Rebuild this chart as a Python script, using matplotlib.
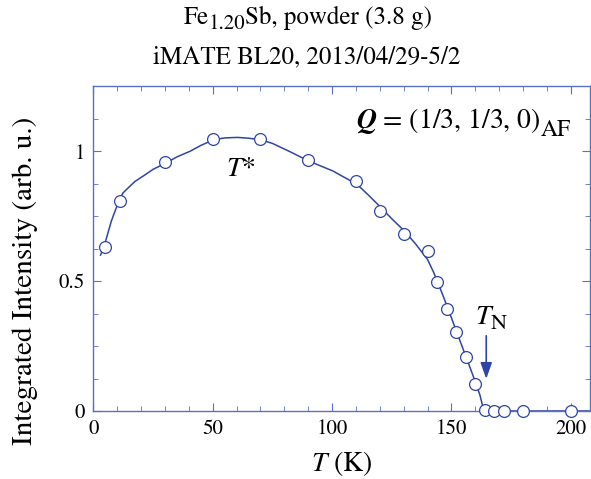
import numpy as np
import matplotlib
matplotlib.use("Agg")
import matplotlib.pyplot as plt
from matplotlib.ticker import MultipleLocator, FuncFormatter

plt.rcParams['font.family'] = 'STIXGeneral'
plt.rcParams['mathtext.fontset'] = 'stix'

# measured points
temp = [5, 11, 30, 50, 70, 90, 110, 120, 130, 140, 144, 148, 152, 156, 160,
        164, 168, 172, 180, 200]
intensity = [0.633, 0.81, 0.957, 1.046, 1.046, 0.966, 0.887, 0.769, 0.681,
             0.615, 0.497, 0.394, 0.304, 0.206, 0.103, 0.004, 0.0, 0.0, 0.0, 0.0]

# fit curve
fit_t = [3, 4.5, 7.5, 10.9, 12.5, 15.4, 17.5, 21, 25, 30.7, 35, 40.6, 45,
         50.4, 55, 60.2, 65, 70, 75, 82.6, 85, 90, 95, 100.3, 105, 110.4,
         115, 120.5, 125, 130.3, 135, 140, 142.5, 145, 147.5, 150, 152.5,
         155, 157.5, 160, 162, 163.6, 208]
fit_i = [0.6, 0.634, 0.73, 0.815, 0.84, 0.866, 0.884, 0.905, 0.93, 0.956,
         0.978, 1.0, 1.022, 1.044, 1.051, 1.053, 1.05, 1.044, 1.03, 0.997,
         0.986, 0.963, 0.944, 0.924, 0.9, 0.873, 0.833, 0.783, 0.74, 0.693,
         0.643, 0.583, 0.535, 0.479, 0.42, 0.359, 0.297, 0.236, 0.175,
         0.113, 0.06, 0.0, 0.0]

tn = 164.6
line_col = '#2f45a6'
spine_col = '#5b70c2'

fig = plt.figure(figsize=(5.91, 4.79), dpi=100)
ax = fig.add_axes([0.158, 0.142, 0.840, 0.678])

ax.plot(fit_t, fit_i, color=line_col, lw=1.1, zorder=2, clip_on=False)
ax.plot(temp, intensity, 'o', ms=8.5, mfc='white', mec=line_col, mew=0.9,
        zorder=3, clip_on=False)

ax.set_xlim(0, 208)
ax.set_ylim(0, 1.25)
ax.xaxis.set_major_locator(MultipleLocator(50))
ax.xaxis.set_minor_locator(MultipleLocator(10))
ax.yaxis.set_major_locator(MultipleLocator(0.5))
ax.yaxis.set_minor_locator(MultipleLocator(0.125))
ax.yaxis.set_major_formatter(FuncFormatter(lambda v, p: '%g' % v))
ax.tick_params(which='both', direction='in', top=True, right=True,
               color=spine_col, labelsize=15, pad=6)
ax.tick_params(which='major', length=6)
ax.tick_params(which='minor', length=3.5)
for s in ax.spines.values():
    s.set_color(spine_col)
    s.set_linewidth(1.0)

ax.set_xlabel(r'$T$ (K)', fontsize=20, va='center')
ax.xaxis.set_label_coords(0.5, -0.163)
ax.set_ylabel('Integrated Intensity (arb. u.)', fontsize=21)
ax.yaxis.set_label_coords(-0.112, 0.40)


def after(prev, s, size, dx=0, dy=0, **kw):
    # put s right after the text prev, shifted by dx, dy points
    return ax.annotate(s, xy=(1, 0), xycoords=prev, xytext=(dx, dy),
                       textcoords='offset points', ha='left', va='bottom',
                       fontsize=size, annotation_clip=False, **kw)


q = ax.text(110, 1.117, r'$\mathbfit{Q}$ = (1/3, 1/3, 0)', fontsize=20,
            ha='left', va='center')
after(q, 'AF', 17, dy=-4)

ax.text(61.6, 0.93, r'$T$*', fontsize=20, ha='center', va='center')
tt = ax.text(160, 0.36, r'$T$', fontsize=20, ha='left', va='center')
after(tt, 'N', 16, dx=-3, dy=-3)
ax.annotate('', xy=(tn, 0.113), xytext=(tn, 0.30),
            arrowprops=dict(arrowstyle='-|>,head_length=0.7,head_width=0.25',
                            color=line_col, lw=1.2, mutation_scale=14))

t1 = fig.text(0.31, 0.962, 'Fe', fontsize=18, ha='left', va='center')
t2 = after(t1, '1.20', 15, dy=-3)
after(t2, 'Sb, powder (3.8 g)', 18, dy=3)
fig.text(0.519, 0.88, 'iMATE BL20, 2013/04/29-5/2', fontsize=18,
         ha='center', va='center')

fig.savefig('out.png', dpi=100)
